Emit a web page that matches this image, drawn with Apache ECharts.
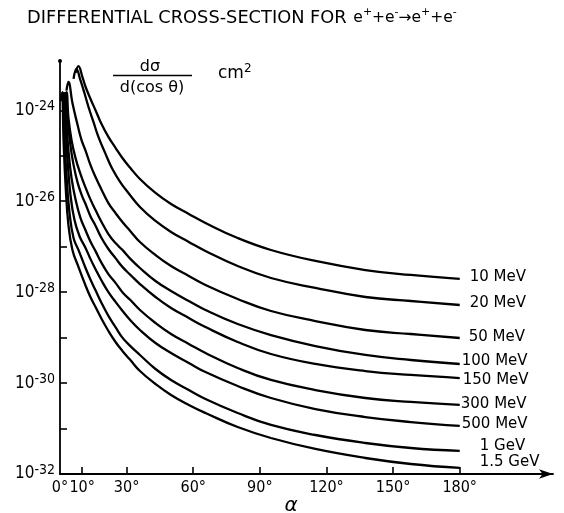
<!DOCTYPE html>
<html><head><meta charset="utf-8">
<script src="https://cdn.jsdelivr.net/npm/echarts@6/dist/echarts.min.js"></script>
<style>html,body{margin:0;padding:0;background:#fff}#c{width:564px;height:513px}</style>
</head><body><div id="c"></div>
<script>
// ---------- data: [alpha (degrees), dsigma/d(cos theta) (cm^2)] ----------
const seriesNames = ['10 MeV','20 MeV','50 MeV','100 MeV','150 MeV','300 MeV','500 MeV','1 GeV','1.5 GeV'];
const mev10 = [[7.0,6.6e-24],[8.3,9.4e-24],[10.1,5.4e-24],[11.5,3.3e-24],[13.7,1.8e-24],[16.0,1.0e-24],[18.7,5.0e-25],[21.8,2.6e-25],[25.0,1.5e-25],[28.1,8.94e-26],[31.7,5.38e-26],[36,3.08e-26],[43,1.52e-26],[50,8.69e-27],[58,5.24e-27],[65.5,3.32e-27],[80,1.55e-27],[95,8.46e-28],[115,4.85e-28],[137.5,3.07e-28],[158,2.39e-28],[180,1.95e-28]];
const mev20 = [[6.1,4.9e-24],[7.4,8.1e-24],[9.2,4.6e-24],[11.0,2.4e-24],[12.8,1.2e-24],[15.1,5.5e-25],[17.3,2.6e-25],[20.5,1.1e-25],[23.6,5.1e-26],[27.2,2.6e-26],[30.8,1.52e-26],[36,7.47e-27],[43,3.68e-27],[50,2.11e-27],[58,1.27e-27],[65.5,8.04e-28],[80,3.76e-28],[95,2.05e-28],[115,1.24e-28],[137.5,7.83e-29],[158,6.39e-29],[180,5.22e-29]];
const mev50 = [[2.9,2.7e-24],[3.8,4.2e-24],[5.6,1.45e-24],[7.9,4.8e-25],[9.7,2.2e-25],[11.5,1.3e-25],[13.7,6.3e-26],[16.0,3.4e-26],[18.7,1.8e-26],[21.8,9.1e-27],[25.0,5.5e-27],[28.1,3.5e-27],[31.7,2.2e-27],[36,1.27e-27],[43,6.57e-28],[50,3.76e-28],[58,2.27e-28],[65.5,1.44e-28],[80,7.07e-29],[95,3.85e-29],[115,2.32e-29],[137.5,1.47e-29],[158,1.20e-29],[180,9.81e-30]];
const mev100 = [[2.0,1.7e-24],[2.9,2.5e-24],[3.8,6.8e-25],[5.2,2.2e-25],[7.0,8.9e-26],[9.2,4.0e-26],[11.5,2.0e-26],[13.7,1.1e-26],[16.0,6.4e-27],[18.7,3.5e-27],[21.8,1.9e-27],[25.0,1.2e-27],[28.1,8.5e-28],[31.7,5.4e-28],[36,3.40e-28],[43,1.76e-28],[50,1.06e-28],[58,6.39e-29],[65.5,4.05e-29],[80,1.99e-29],[95,1.14e-29],[115,6.54e-30],[137.5,4.15e-30],[158,3.22e-30],[180,2.63e-30]];
const mev150 = [[1.6,1.6e-24],[2.5,2.4e-24],[3.4,6.8e-25],[4.7,1.7e-25],[6.1,6.3e-26],[7.9,2.6e-26],[9.7,1.4e-26],[11.5,8.7e-27],[13.7,4.7e-27],[16.0,2.9e-27],[18.7,1.55e-27],[21.8,8.9e-28],[25.0,5.6e-28],[28.1,3.6e-28],[31.7,2.4e-28],[36,1.51e-28],[43,7.83e-29],[50,4.48e-29],[58,2.70e-29],[65.5,1.71e-29],[80,8.02e-30],[95,4.36e-30],[115,2.63e-30],[137.5,1.84e-30],[158,1.51e-30],[180,1.29e-30]];
const mev300 = [[1.1,1.6e-24],[2.0,2.4e-24],[2.9,5.5e-25],[3.8,1.3e-25],[5.2,3.2e-26],[7.0,1.1e-26],[9.2,4.3e-27],[11.5,2.3e-27],[13.7,1.3e-27],[16.0,8.0e-28],[18.7,4.4e-28],[21.8,2.5e-28],[25.0,1.6e-28],[28.1,1.0e-28],[31.7,6.7e-29],[36,4.05e-29],[43,2.10e-29],[50,1.20e-29],[58,7.24e-30],[65.5,4.59e-30],[80,2.15e-30],[95,1.17e-30],[115,7.04e-31],[137.5,4.70e-31],[158,3.84e-31],[180,3.30e-31]];
const mev500 = [[0.7,1.6e-24],[1.6,2.4e-24],[2.5,4.8e-25],[3.4,8.1e-26],[4.7,1.4e-26],[6.5,3.9e-27],[8.8,1.7e-27],[11.5,9.4e-28],[13.7,5.4e-28],[16.0,3.2e-28],[18.7,1.8e-28],[21.8,1.0e-28],[25.0,6.1e-29],[28.1,3.9e-29],[31.7,2.4e-29],[36,1.47e-29],[43,7.61e-30],[50,4.59e-30],[58,2.77e-30],[65.5,1.75e-30],[80,8.63e-31],[95,4.70e-31],[115,2.69e-31],[137.5,1.79e-31],[158,1.39e-31],[180,1.14e-31]];
const gev1 = [[0.5,1.7e-24],[1.1,2.5e-24],[2.0,2.9e-25],[2.9,3.8e-26],[4.3,5.5e-27],[6.1,1.55e-27],[8.3,8.5e-28],[11.5,3.4e-28],[13.7,1.9e-28],[16.0,1.1e-28],[18.7,5.8e-29],[21.8,3.0e-29],[25.0,1.7e-29],[28.1,1.0e-29],[31.7,6.5e-30],[36,4.15e-30],[43,2.04e-30],[50,1.17e-30],[58,7.04e-31],[65.5,4.47e-31],[80,2.20e-31],[95,1.20e-31],[115,7.21e-32],[137.5,4.81e-32],[158,3.73e-32],[180,3.21e-32]];
const gev15 = [[0.3,1.6e-24],[0.9,2.4e-24],[1.6,2.2e-25],[2.5,2.3e-26],[3.8,3.0e-27],[5.6,8.5e-28],[8.3,3.6e-28],[11.5,1.4e-28],[13.7,7.8e-29],[16.0,4.7e-29],[18.7,2.6e-29],[21.8,1.4e-29],[25.0,8.0e-30],[28.1,5.1e-30],[31.7,3.2e-30],[36,1.84e-30],[43,9.54e-31],[50,5.47e-31],[58,3.30e-31],[65.5,2.20e-31],[80,1.08e-31],[95,6.19e-32],[115,3.55e-32],[137.5,2.25e-32],[158,1.66e-32],[180,1.36e-32]];
const seriesData = [mev10, mev20, mev50, mev100, mev150, mev300, mev500, gev1, gev15];

const xTickValues = [10,30,60,90,120,150,180];
const xLabelValues = [0,10,30,60,90,120,150,180];
const yMin = 1e-32, yMax = 1.216e-23;
// decade exponents for ticks and labels (10^n)
const yTickExponents = [-32,-31,-30,-29,-28,-27,-26,-25,-24];
const yLabelExponents = [-32,-30,-28,-26,-24];

// ---------- layout / style ----------
const endLabelOffsets = [[10,-2],[10,-2],[9,-1],[2,-3],[3,2],[1,-1],[2,-2],[20,-5],[20,-6]];
const F = "'DejaVu Sans', 'Liberation Sans', sans-serif";
const FN = "'Liberation Sans Narrow', 'DejaVu Sans Condensed', 'Liberation Sans', sans-serif";

const chart = echarts.init(document.getElementById('c'), null, {renderer:'canvas'});
chart.setOption({
  animation: false,
  backgroundColor: '#fff',
  grid: {left: 60, top: 61, width: 493, height: 413, outerBoundsMode: 'none'},
  xAxis: {
    type: 'value', min: 0, max: 222,
    axisLine: {show: true, lineStyle: {color: '#000', width: 1.8}, symbol: ['none','arrow'], symbolSize: [7, 14]},
    axisTick: {show: true, inside: true, length: 7, customValues: xTickValues, lineStyle: {color:'#000', width: 1.6}},
    axisLabel: {customValues: xLabelValues, formatter: v => v + '°', color: '#000', fontSize: 16, fontFamily: FN, margin: 6},
    splitLine: {show: false}
  },
  yAxis: [
    { // data axis (logarithmic)
      type: 'log', logBase: 10, min: yMin, max: yMax,
      axisLine: {show: true, lineStyle: {color: '#000', width: 1.8}, symbol: ['none','circle'], symbolSize: [4,4]},
      axisTick: {show: false}, axisLabel: {show: false}, splitLine: {show: false}
    },
    { // decade axis: exponent of the same log scale, carries ticks and 10^n labels
      type: 'value', position: 'left', offset: 0,
      min: Math.log10(yMin), max: Math.log10(yMax),
      axisLine: {show: false},
      axisTick: {show: true, inside: true, length: 7, customValues: yTickExponents, lineStyle: {color:'#000', width: 1.6}},
      axisLabel: {
        customValues: yLabelExponents, margin: 5, color: '#000',
        formatter: v => '{b|10}{s|' + Math.round(v) + '}',
        rich: {
          b: {fontSize: 17, fontFamily: FN, color: '#000', lineHeight: 21},
          s: {fontSize: 14, fontFamily: FN, color: '#000', verticalAlign: 'top', lineHeight: 13}
        }
      },
      splitLine: {show: false}
    }
  ],
  graphic: [
    {type: 'text', x: 27, y: 18, silent: true, style: {
      text: '{a|DIFFERENTIAL CROSS-SECTION FOR}  {b|e}{s|+}{b|+e}{s|-}{b|→e}{s|+}{b|+e}{s|-}',
      verticalAlign: 'middle',
      rich: {
        a: {fontSize: 17.8, fontFamily: F, fill: '#000', lineHeight: 22},
        b: {fontSize: 15.5, fontFamily: F, fill: '#000', lineHeight: 22},
        s: {fontSize: 11, fontFamily: F, fill: '#000', verticalAlign: 'top', lineHeight: 12}
      }
    }},
    {type: 'text', x: 150, y: 67, silent: true, style: {text: 'dσ', font: "16px 'DejaVu Sans'", fill: '#000', align: 'center', verticalAlign: 'middle'}},
    {type: 'line', silent: true, shape: {x1: 113, y1: 75.5, x2: 192, y2: 75.5}, style: {stroke: '#000', lineWidth: 1.6}},
    {type: 'text', x: 152, y: 88, silent: true, style: {text: 'd(cos θ)', font: "16px 'DejaVu Sans'", fill: '#000', align: 'center', verticalAlign: 'middle'}},
    {type: 'text', x: 218, y: 74, silent: true, style: {
      text: '{b|cm}{s|2}', verticalAlign: 'middle',
      rich: {b: {fontSize: 17, fontFamily: F, fill: '#000', lineHeight: 22}, s: {fontSize: 12, fontFamily: F, fill: '#000', verticalAlign: 'top', lineHeight: 12}}
    }},
    {type: 'text', x: 291, y: 506, silent: true, style: {text: 'α', font: "italic 20px 'DejaVu Sans'", fill: '#000', align: 'center', verticalAlign: 'middle'}}
  ],
  series: seriesNames.map((n, i) => ({
    name: n, type: 'line', data: seriesData[i], yAxisIndex: 0,
    showSymbol: false, symbol: 'none', smooth: 0.45, silent: true,
    lineStyle: {color: '#000', width: 2.3},
    endLabel: {show: true, formatter: () => n, distance: 0, offset: endLabelOffsets[i], color: '#000', fontSize: 15, fontFamily: F}
  }))
});
</script>
</body></html>
